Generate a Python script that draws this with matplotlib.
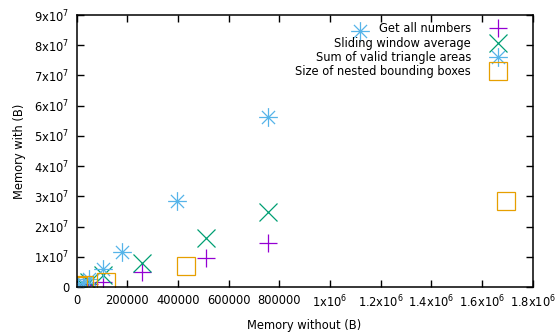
import matplotlib
matplotlib.use("Agg")
import matplotlib.pyplot as plt
from matplotlib.path import Path
from matplotlib.ticker import FixedLocator, FixedFormatter

plt.rcParams['font.family'] = ['DejaVu Sans']
plt.rcParams['mathtext.default'] = 'regular'

# Data
get_x = [5000, 25000, 50000, 105000, 257000, 511000, 756000]
get_y = [1e5, 5e5, 1.0e6, 1.8e6, 5.0e6, 9.6e6, 1.46e7]
slide_x = [5000, 25000, 50000, 106000, 258000, 510000, 756000]
slide_y = [2e5, 8e5, 1.5e6, 4.0e6, 8.0e6, 1.63e7, 2.48e7]
tri_x = [5000, 25000, 50000, 106000, 180000, 397000, 756000, 1120000]
tri_y = [3e5, 1.2e6, 2.5e6, 5.9e6, 1.16e7, 2.85e7, 5.63e7, 8.47e7]
box_x = [5000, 30000, 116000, 432000, 1695000]
box_y = [3e5, 6e5, 1.8e6, 7.0e6, 2.85e7]

labels = ["Get all numbers", "Sliding window average",
          "Sum of valid triangle areas", "Size of nested bounding boxes"]
colors = ["#9400d3", "#009e73", "#56b4e9", "#e69f00"]

xticks = [0, 200000, 400000, 600000, 800000, 1e6, 1.2e6, 1.4e6, 1.6e6, 1.8e6]
xticklabels = ["0", "200000", "400000", "600000", "800000",
               "1x10$^{6}$", "1.2x10$^{6}$", "1.4x10$^{6}$", "1.6x10$^{6}$", "1.8x10$^{6}$"]
yticks = [0, 1e7, 2e7, 3e7, 4e7, 5e7, 6e7, 7e7, 8e7, 9e7]
yticklabels = ["0"] + ["%dx10$^{7}$" % i for i in range(1, 10)]

star = Path([(-1, 0), (1, 0), (0, -1), (0, 1), (-0.7, -0.7), (0.7, 0.7), (-0.7, 0.7), (0.7, -0.7)],
            [Path.MOVETO, Path.LINETO] * 4)

fig = plt.figure(figsize=(5.58, 3.32), dpi=100)
ax = fig.add_axes([76.5 / 558, 45 / 332, (532.7 - 76.5) / 558, (287 - 15) / 332])

ms = 13.5
lw = 0.9
ax.plot(get_x, get_y, linestyle='none', marker='+', ms=ms, mew=lw, color=colors[0], label=labels[0])
ax.plot(slide_x, slide_y, linestyle='none', marker='x', ms=ms, mew=lw, color=colors[1], label=labels[1])
ax.plot(tri_x, tri_y, linestyle='none', marker=star, ms=ms, mew=lw, color=colors[2], label=labels[2])
ax.plot(box_x, box_y, linestyle='none', marker='s', ms=ms, mew=lw, color=colors[3],
        markerfacecolor='none', label=labels[3])

ax.set_xlim(0, 1.8e6)
ax.set_ylim(0, 9e7)
ax.xaxis.set_major_locator(FixedLocator(xticks))
ax.xaxis.set_major_formatter(FixedFormatter(xticklabels))
ax.yaxis.set_major_locator(FixedLocator(yticks))
ax.yaxis.set_major_formatter(FixedFormatter(yticklabels))
ax.tick_params(direction='in', top=True, right=True, length=5, width=1, labelsize=8.3, pad=5)
for s in ax.spines.values():
    s.set_linewidth(1.1)

ax.set_xlabel("Memory without (B)", fontsize=8.3, labelpad=6)
ax.set_ylabel("Memory with (B)", fontsize=8.3, labelpad=6)

leg = ax.legend(loc='upper right', bbox_to_anchor=(0.96, 0.99), frameon=False, markerfirst=False,
                fontsize=8.3, handlelength=2.0, handletextpad=1.35, labelspacing=0.12,
                borderaxespad=0.0)
for t in leg.get_texts():
    t.set_ha('right')
leg._legend_box.align = "right"

fig.savefig("out.png", dpi=100)
